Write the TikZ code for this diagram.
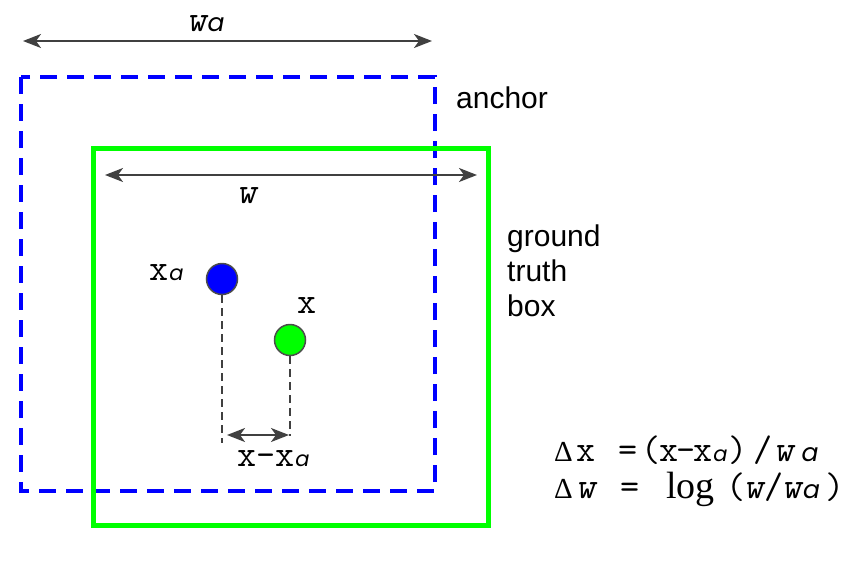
\documentclass[tikz,border=0pt]{standalone}
\usepackage{fontspec}
\setmainfont{Liberation Sans}
\newfontfamily\deltaf{Liberation Serif}
\newfontfamily\seriff{Liberation Serif}
\newfontfamily\af{Poppins}[ItalicFont=* Italic]
\usetikzlibrary{arrows.meta}
\newcommand{\suba}{{\af\fontsize{21}{24}\selectfont\itshape a}}
\newcommand{\biga}{{\af\fontsize{25}{28}\selectfont\itshape a}}
\begin{document}
\begin{tikzpicture}[x=1pt,y=-1pt,
  dim/.style={draw=black!75,line width=2pt,{Stealth[length=18pt,width=14pt,inset=5pt]}-{Stealth[length=18pt,width=14pt,inset=5pt]}},
  guide/.style={draw=black!75,line width=1.8pt,dash pattern=on 8pt off 5pt},
  dot/.style={circle,draw=black!70,line width=1.5pt,minimum size=31pt,inner sep=0pt},
  lbl/.style={font=\fontsize{30}{35}\selectfont,inner sep=0pt,anchor=base west},
  mlbl/.style={font=\fontsize{37}{38}\ttfamily,inner sep=0pt,anchor=base west},
  dlab/.style={font=\deltaf\fontsize{29}{30}\selectfont,inner sep=0pt,anchor=base west},
]
\useasboundingbox (0,0) rectangle (851,571);
% anchor box
\draw[blue,line width=4pt,dash pattern=on 17pt off 10pt] (21,77) rectangle (435,491);
% ground truth box
\draw[green,line width=5pt] (93,148) rectangle (488,525);
% wa dimension
\coordinate (wal) at (23,41);
\coordinate (war) at (432,41);
\draw[dim] (wal) -- (war);
\node[mlbl] (walbl) at (187,31) {\slshape w\kern1pt\biga};
% w dimension
\coordinate (wl) at (105,175);
\coordinate (wr) at (477,175);
\draw[dim] (wl) -- (wr);
\node[mlbl] (wlbl) at (237,203) {\slshape w};
% dots
\node[dot,fill=blue] (xa) at (222,279) {};
\node[dot,fill=green] (x) at (290,340) {};
\node[mlbl] (xalbl) at (149,280) {x\kern1pt\suba};
\node[mlbl] (xlbl) at (297,313) {x};
% guides
\coordinate (ga) at (222,443);
\coordinate (gx) at (290,436);
\draw[guide] (xa.south) -- (ga);
\draw[guide] (x.south) -- (gx);
\coordinate (dl) at (227,435);
\coordinate (dr) at (289,435);
\draw[dim] (dl) -- (dr);
\node[mlbl] (dlbl) at (237,466) {x-x\kern1pt\suba};
% texts
\node[lbl] (anchorlbl) at (456,108) {anchor};
\node[lbl] (gt1) at (507,246) {ground};
\node[lbl] (gt2) at (507,281) {truth};
\node[lbl] (gt3) at (507,316) {box};
% equation 1
\node[dlab] (e1a) at (554,461) {Δ};
\node[mlbl] (e1b) at (576,461) {x};
\node[mlbl] (e1c) at (618,461) {=};
\node[mlbl] (e1d) at (641,461) {(\kern-1pt x\kern-2pt-\kern-2pt x\kern1pt\suba\kern1pt)};
\node[mlbl] (e1e) at (753,461) {/};
\node[mlbl] (e1f) at (774,461) {\slshape w\kern8pt\biga};
% equation 2
\node[dlab] (e2a) at (554,498) {Δ};
\node[mlbl] (e2b) at (576,498) {\slshape w};
\node[mlbl] (e2c) at (620,498) {=};
\node[font=\seriff\fontsize{38}{40}\selectfont,inner sep=0pt,anchor=base west] (e2d) at (666,498) {log};
\node[mlbl] (e2e) at (726,498) {(\kern-1pt{\slshape w}\kern1pt/\kern-1pt{\slshape w}\kern1pt\biga\kern5pt)};
\end{tikzpicture}
\end{document}
